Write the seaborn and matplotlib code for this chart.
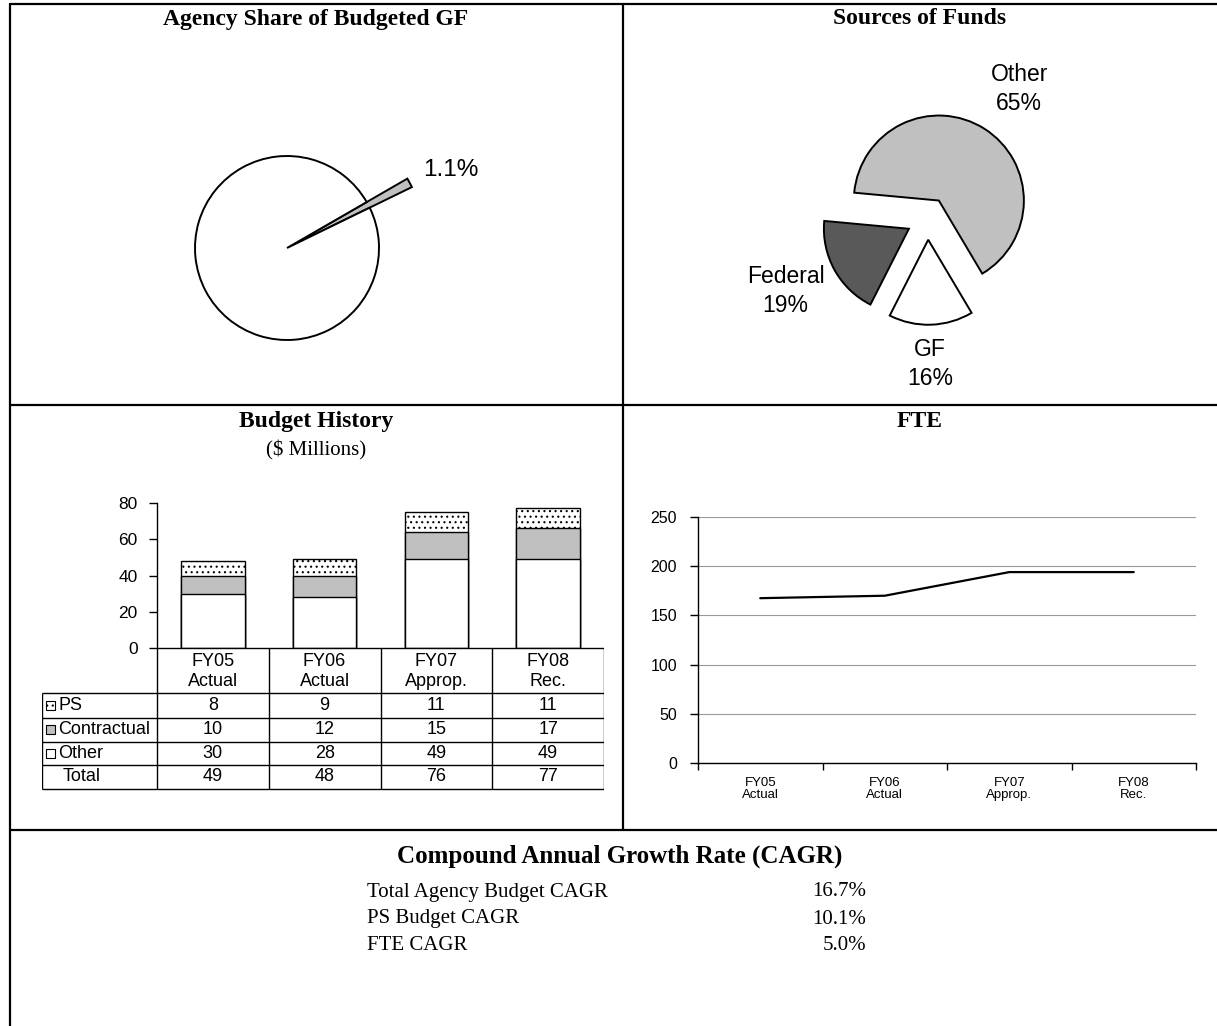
import matplotlib
matplotlib.use("Agg")
import matplotlib.pyplot as plt
import seaborn as sns
import pandas as pd
from matplotlib.lines import Line2D
from matplotlib.patches import Rectangle

W, H = 1217, 1026

# agency share of budgeted GF
share_values = [1.1, 98.9]
share_colors = ["#c0c0c0", "white"]

# sources of funds (clockwise from Other)
fund_sources = ["Other", "GF", "Federal"]
fund_shares = [65, 16, 19]
fund_colors = ["#c0c0c0", "white", "#595959"]

years = ["FY05\nActual", "FY06\nActual", "FY07\nApprop.", "FY08\nRec."]
budget_ps = [8, 9, 11, 11]
budget_contractual = [10, 12, 15, 17]
budget_other = [30, 28, 49, 49]
budget_total = [49, 48, 76, 77]

fte = [167.5, 170, 194, 194]

cagr_labels = ["Total Agency Budget CAGR", "PS Budget CAGR", "FTE CAGR"]
cagr_values = ["16.7%", "10.1%", "5.0%"]

SERIF = ["Liberation Serif", "DejaVu Serif"]
SANS = ["Liberation Sans", "DejaVu Sans"]

sns.set_theme(style="white")
plt.rcParams["font.family"] = SANS
plt.rcParams.update({"text.color": "black", "xtick.color": "black", "ytick.color": "black",
                     "axes.labelcolor": "black", "hatch.linewidth": 0.8})


def box(x0, y0, x1, y1):
    return [x0 / W, 1 - y1 / H, (x1 - x0) / W, (y1 - y0) / H]


def fig_line(fig, x0, y0, x1, y1, lw=1.6):
    fig.add_artist(Line2D([x0 / W, x1 / W], [1 - y0 / H, 1 - y1 / H],
                          transform=fig.transFigure, color="black", lw=lw))


def fig_text(fig, x, y, s, **kw):
    fig.text(x / W, 1 - y / H, s, **kw)


fig = plt.figure(figsize=(W / 100, H / 100), dpi=100)
fig.patch.set_facecolor("white")

# panel frame
fig_line(fig, 10, 4, W, 4)
fig_line(fig, 10, 4, 10, H)
fig_line(fig, 10, 405, W, 405)
fig_line(fig, 10, 830, W, 830)
fig_line(fig, 623, 4, 623, 830)

title_kw = dict(family=SERIF, fontsize=17, fontweight="bold", ha="center", va="center")
fig_text(fig, 316, 19, "Agency Share of Budgeted GF", **title_kw)
fig_text(fig, 920, 19, "Sources of Funds", **title_kw)
fig_text(fig, 316, 422, "Budget History", **title_kw)
fig_text(fig, 316, 450, "($ Millions)", family=SERIF, fontsize=15, ha="center", va="center")
fig_text(fig, 920, 422, "FTE", **title_kw)

# --- pie 1 ---
cx, cy, r = 287, 248, 92
ax = fig.add_axes(box(cx - 160, cy - 120, cx + 160, cy + 120))
wedges, _ = ax.pie(share_values, colors=share_colors, startangle=26, counterclock=True,
                   wedgeprops=dict(edgecolor="black", linewidth=1.4))
wedges[0].set_radius(1.51)
ax.set_xlim(-160 / r, 160 / r)
ax.set_ylim(-120 / r, 120 / r)
ax.set_aspect("equal")
ax.text(1.48, 0.85, f"{share_values[0]}%", fontsize=17.5, ha="left", va="center")

# --- pie 2 ---
cx, cy, r = 927.5, 218.5, 85
ax = fig.add_axes(box(cx - 200, cy - 170, cx + 200, cy + 170))
ax.pie(fund_shares, colors=fund_colors, startangle=174.7, counterclock=False,
       explode=[0.25] * 3, wedgeprops=dict(edgecolor="black", linewidth=1.4))
ax.set_xlim(-200 / r, 200 / r)
ax.set_ylim(-170 / r, 170 / r)
ax.set_aspect("equal")
label_pos = {"Other": (1.08, 1.52), "GF": (0.03, -1.71), "Federal": (-1.67, -0.85)}
for name, share in zip(fund_sources, fund_shares):
    x, y = label_pos[name]
    ax.text(x, y, f"{name}\n{share}%", fontsize=16.5, ha="center", va="center",
            linespacing=1.35)

# --- budget history ---
px0, px1 = 157, 604
ax = fig.add_axes(box(px0, 503, px1, 648))
df = pd.DataFrame({"year": years, "other": budget_other,
                   "contractual": budget_contractual, "ps": budget_ps})
df["mid"] = df["other"] + df["contractual"]
df["top"] = df["mid"] + df["ps"]
bar_kw = dict(x="year", edgecolor="black", linewidth=1, saturation=1, width=0.57, ax=ax)
sns.barplot(data=df, y="top", color="white", hatch="...", **bar_kw)
sns.barplot(data=df, y="mid", color="#c0c0c0", **bar_kw)
sns.barplot(data=df, y="other", color="white", **bar_kw)
ax.set_xlim(-0.5, 3.5)
ax.set_ylim(0, 80)
ax.set_yticks([0, 20, 40, 60, 80])
ax.set_xticks([])
ax.set_xlabel("")
ax.set_ylabel("")
for s in ["top", "right", "bottom"]:
    ax.spines[s].set_visible(False)
ax.spines["left"].set_color("black")
ax.spines["left"].set_linewidth(1)
ax.tick_params(axis="y", left=True, length=6, width=1, color="black",
               direction="out", labelsize=12.5, pad=8)
ax.set_facecolor("none")

# data table under the bars
lx0 = 42
col_w = (px1 - px0) / len(years)
rows_y = [648, 693, 718, 742, 765, 789]
tax = fig.add_axes(box(lx0, 645, px1, 792))
tax.set_xlim(lx0, px1)
tax.set_ylim(792, 645)
tax.axis("off")
lk = dict(color="black", lw=1, solid_capstyle="butt")
tax.plot([px0, px1], [rows_y[0]] * 2, **lk)
for y in rows_y[1:]:
    tax.plot([lx0, px1], [y, y], **lk)
tax.plot([lx0, lx0], [rows_y[1], rows_y[-1]], **lk)
for i in range(len(years) + 1):
    x = px0 + i * col_w
    tax.plot([x, x], [rows_y[0], rows_y[-1]], **lk)
for i, yr in enumerate(years):
    tax.text(px0 + (i + 0.5) * col_w, (rows_y[0] + rows_y[1]) / 2 + 1, yr,
             ha="center", va="center", fontsize=13, linespacing=1.25)
table_rows = [("PS", budget_ps, "white", "..."), ("Contractual", budget_contractual, "#c0c0c0", None),
              ("Other", budget_other, "white", None), ("Total", budget_total, None, None)]
for k, (name, vals, fc, hatch) in enumerate(table_rows):
    yc = (rows_y[k + 1] + rows_y[k + 2]) / 2
    if fc is not None:
        tax.add_patch(Rectangle((46, yc - 4.5), 9, 9, facecolor=fc, edgecolor="black",
                                lw=0.8, hatch=hatch))
    tax.text(58 if fc is not None else 63, yc, name, ha="left", va="center", fontsize=13)
    for i, v in enumerate(vals):
        tax.text(px0 + (i + 0.5) * col_w, yc, str(v), ha="center", va="center", fontsize=13)

# --- FTE ---
ax = fig.add_axes(box(698, 517, 1196, 763))
fdf = pd.DataFrame({"pos": range(len(years)), "fte": fte})
sns.lineplot(data=fdf, x="pos", y="fte", color="black", linewidth=1.6, ax=ax)
ax.set_xlim(-0.5, 3.5)
ax.set_ylim(0, 250)
ax.set_yticks(range(0, 251, 50))
ax.set_xticks([i - 0.5 for i in range(len(years) + 1)])
ax.set_xticklabels([])
ax.set_xticks(range(len(years)), minor=True)
ax.set_xticklabels(years, minor=True, fontsize=9.5, linespacing=1.0)
ax.tick_params(axis="x", which="major", bottom=True, length=5, width=1, color="black", direction="out")
ax.tick_params(axis="x", which="minor", bottom=True, length=0, pad=10)
ax.tick_params(axis="y", left=True, length=6, width=1, color="black", direction="out",
               labelsize=11.5, pad=9)
ax.yaxis.grid(True, color="#9a9a9a", lw=0.8)
ax.set_axisbelow(True)
ax.set_xlabel("")
ax.set_ylabel("")
for s in ["top", "right"]:
    ax.spines[s].set_visible(False)
for s in ["left", "bottom"]:
    ax.spines[s].set_color("black")
    ax.spines[s].set_linewidth(1)

# --- CAGR ---
fig_text(fig, 620, 856, "Compound Annual Growth Rate (CAGR)", family=SERIF, fontsize=18,
         fontweight="bold", ha="center", va="center")
for k, (lab, val) in enumerate(zip(cagr_labels, cagr_values)):
    y = 892 + k * 27
    fig_text(fig, 367, y, lab, family=SERIF, fontsize=15, ha="left", va="center")
    fig_text(fig, 866, y, val, family=SERIF, fontsize=15, ha="right", va="center")

fig.savefig("out.png", dpi=100, facecolor="white")
